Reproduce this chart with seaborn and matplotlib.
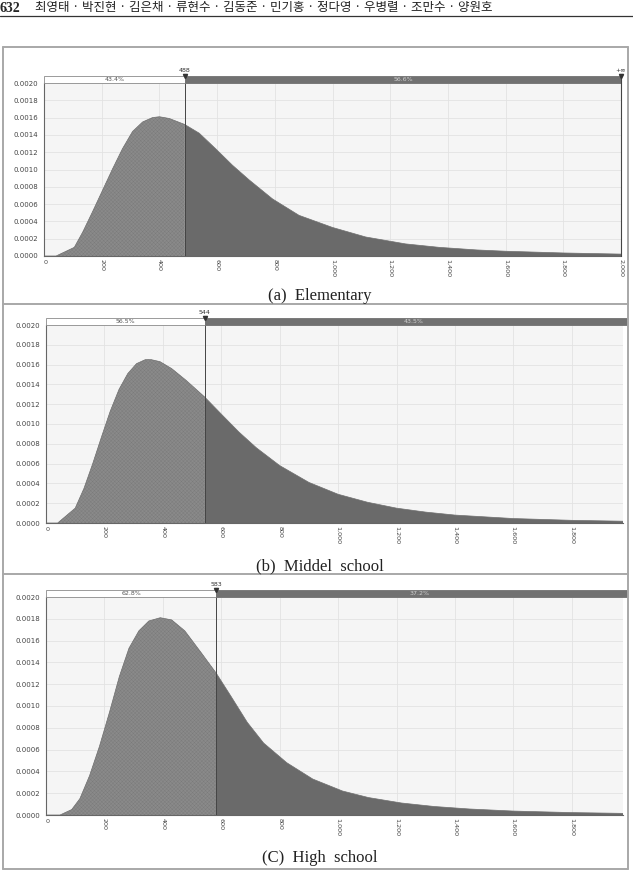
import numpy as np
import pandas as pd
import matplotlib
matplotlib.use("Agg")
import matplotlib.pyplot as plt
from matplotlib.lines import Line2D
from matplotlib.patches import Rectangle
from matplotlib.ticker import FuncFormatter, MultipleLocator
import matplotlib.transforms as mtrans
import seaborn as sns

# ---------------- data ----------------
header_page = "632"
header_names = "최영태 · 박진현 · 김은채 · 류현수 · 김동준 · 민기홍 · 정다영 · 우병렬 · 조만수 · 양원호"

captions = ["(a)  Elementary", "(b)  Middel  school", "(C)  High  school"]

# (a) Elementary
a_x = [0, 42, 105, 134, 168, 203, 238, 272, 307, 342, 376, 400, 434, 488, 538, 595, 653,
       711, 792, 884, 1000, 1115, 1253, 1370, 1500, 1600, 1800, 2000]
a_y = [0, 0, 0.00010, 0.000275, 0.00051, 0.00076, 0.00101, 0.00124, 0.00144, 0.00155,
       0.00160, 0.00161, 0.00159, 0.00152, 0.00142, 0.00124, 0.00105, 0.00088, 0.00066,
       0.00047, 0.00033, 0.00022, 0.00014, 0.00010, 0.00007, 0.000055, 0.000035, 0.000022]
a_split = 488
a_pct = ["43.4%", "56.6%"]

# (b) Middle school
b_x = [0, 40, 100, 130, 160, 190, 220, 250, 280, 310, 340, 360, 390, 430, 480, 544, 600,
       660, 720, 800, 900, 1000, 1100, 1200, 1300, 1400, 1600, 1800, 1975]
b_y = [0, 0, 0.00015, 0.00035, 0.00060, 0.00087, 0.00113, 0.00135, 0.00151, 0.00161,
       0.00165, 0.00165, 0.00163, 0.00156, 0.00144, 0.00127, 0.00110, 0.00092, 0.00076,
       0.00058, 0.00041, 0.00029, 0.00021, 0.00015, 0.00011, 0.00008, 0.000045, 0.000027,
       0.000018]
b_split = 544
b_pct = ["56.5%", "43.5%"]

# (c) High school
c_x = [0, 48, 88, 116, 149, 183, 217, 251, 284, 318, 352, 391, 430, 475, 531, 583, 633,
       689, 745, 824, 913, 1015, 1104, 1217, 1329, 1450, 1600, 1800, 1975]
c_y = [0, 0, 0.00005, 0.00015, 0.00036, 0.00063, 0.00094, 0.00127, 0.00153, 0.00169,
       0.00178, 0.00181, 0.00179, 0.00169, 0.00149, 0.00130, 0.00109, 0.00085, 0.00066,
       0.00048, 0.00033, 0.00022, 0.00016, 0.00011, 0.000078, 0.000055, 0.000036, 0.000022,
       0.000015]
c_split = 583
c_pct = ["62.8%", "37.2%"]

x_max = [2000, 1975, 1975]
y_ticks = [0.0000, 0.0002, 0.0004, 0.0006, 0.0008, 0.0010, 0.0012, 0.0014, 0.0016, 0.0018, 0.0020]

# ---------------- figure ----------------
sns.set_style("white")
plt.rcParams["font.family"] = ["DejaVu Sans"]
plt.rcParams["hatch.linewidth"] = 0.25

W, H = 633, 876
fig = plt.figure(figsize=(W / 100, H / 100), dpi=100)


def fx(x):
    return x / W


def fy(y):
    return 1 - y / H


def axes_from_px(left, right, top, bottom):
    return fig.add_axes([fx(left), fy(bottom), (right - left) / W, (bottom - top) / H])


# header
fig.text(fx(0), fy(8), header_page, fontsize=10, fontweight="bold",
         family=["Liberation Serif"], va="center", ha="left")
fig.text(fx(35), fy(8), header_names, fontsize=9,
         family=["Noto Sans CJK KR", "DejaVu Sans"], va="center", ha="left", color="#222222")
fig.add_artist(Line2D([0, 1], [fy(15.5), fy(15.5)], transform=fig.transFigure,
                      color="#333333", lw=0.9))

# frames
frame_col = "#a8a8a8"
for y in (47, 304, 574, 869):
    fig.add_artist(Line2D([fx(3), fx(628)], [fy(y), fy(y)], transform=fig.transFigure,
                          color=frame_col, lw=1.4))
for x in (3, 628):
    fig.add_artist(Line2D([fx(x), fx(x)], [fy(47), fy(869)], transform=fig.transFigure,
                          color=frame_col, lw=1.4))

panels = [
    (a_x, a_y, a_split, a_pct, (44, 621, 83, 256), True),
    (b_x, b_y, b_split, b_pct, (46, 623, 325, 523), False),
    (c_x, c_y, c_split, c_pct, (46, 623, 597, 815), False),
]
caption_y = [296, 566, 858]

for i, (xs, ys, split, pct, box, show_inf) in enumerate(panels):
    ax = axes_from_px(*box)
    ax_h_px = box[3] - box[2]
    ax_w_px = box[1] - box[0]
    df = pd.DataFrame({"x": xs, "y": ys})
    ax.set_facecolor("#f5f5f5")
    xm = x_max[i]

    left = df[df["x"] <= split]
    right = df[df["x"] >= split]
    ax.fill_between(left["x"], 0, left["y"], facecolor="#8a8a8a", edgecolor="#787878",
                    hatch="xxxxxxxxx", linewidth=0, zorder=2)
    ax.fill_between(right["x"], 0, right["y"], facecolor="#6a6a6a", edgecolor="none",
                    linewidth=0, zorder=2)
    sns.lineplot(data=df, x="x", y="y", ax=ax, color="#6f6f6f", lw=0.5, zorder=3)

    ax.set_xlim(0, xm)
    ax.set_ylim(0, 0.0020)
    ax.set_yticks(y_ticks)
    ax.yaxis.set_major_formatter(FuncFormatter(lambda v, p: f"{v:.4f}"))
    ax.xaxis.set_major_locator(MultipleLocator(200))
    ax.xaxis.set_major_formatter(FuncFormatter(lambda v, p: f"{int(round(v)):,}"))
    ax.tick_params(axis="y", labelsize=5, colors="#444444", length=0, pad=4)
    ax.tick_params(axis="x", labelsize=4.6, colors="#444444", length=0, pad=2,
                   labelrotation=-90)
    ax.grid(True, color="#e2e2e2", lw=0.6, zorder=0)
    ax.set_axisbelow(True)
    for s in ("top", "right"):
        ax.spines[s].set_visible(False)
    for s in ("left", "bottom"):
        ax.spines[s].set_color("#666666")
        ax.spines[s].set_linewidth(0.8)
    ax.set_xlabel("")
    ax.set_ylabel("")

    # split line
    ax.axvline(split, color="#444444", lw=0.7, zorder=4)

    # top percentage bar
    bh = 7.0 / ax_h_px
    trans = mtrans.blended_transform_factory(ax.transData, ax.transAxes)
    ax.add_patch(Rectangle((0, 1.0), split, bh, transform=trans, facecolor="white",
                           edgecolor="#8a8a8a", lw=0.6, clip_on=False, zorder=5))
    if show_inf:
        right_end = xm
    else:
        right_end = xm * (1 + 3.5 / ax_w_px)
    ax.add_patch(Rectangle((split, 1.0), right_end - split, bh, transform=trans,
                           facecolor="#717171", edgecolor="#717171", lw=0.6,
                           clip_on=False, zorder=5))
    ax.text(split / 2, 1.0 + bh / 2, pct[0], transform=trans, ha="center", va="center",
            fontsize=4.5, color="#555555", zorder=6)
    ax.text((split + xm) / 2, 1.0 + bh / 2, pct[1], transform=trans, ha="center",
            va="center", fontsize=4.5, color="#d0d0d0", zorder=6)
    ax.plot([split], [1.0 + bh], marker="v", ms=3, color="#333333", transform=trans,
            clip_on=False, zorder=7)
    ax.text(split, 1.0 + bh + 2.5 / ax_h_px, str(split), transform=trans, ha="center",
            va="bottom", fontsize=4.5, color="#333333", zorder=7)
    if show_inf:
        ax.plot([xm, xm], [0, 1.0 + bh], color="#444444", lw=0.8, transform=trans,
                clip_on=False, zorder=7)
        ax.plot([xm], [1.0 + bh], marker="v", ms=3, color="#333333", transform=trans,
                clip_on=False, zorder=7)
        ax.text(xm, 1.0 + bh + 2.5 / ax_h_px, "+∞", transform=trans, ha="center",
                va="bottom", fontsize=4.5, color="#333333", zorder=7)

    fig.text(fx(320), fy(caption_y[i]), captions[i], ha="center", va="center",
             fontsize=12, family=["Liberation Serif"], color="#222222")

fig.savefig("out.png", dpi=100, facecolor="white")
